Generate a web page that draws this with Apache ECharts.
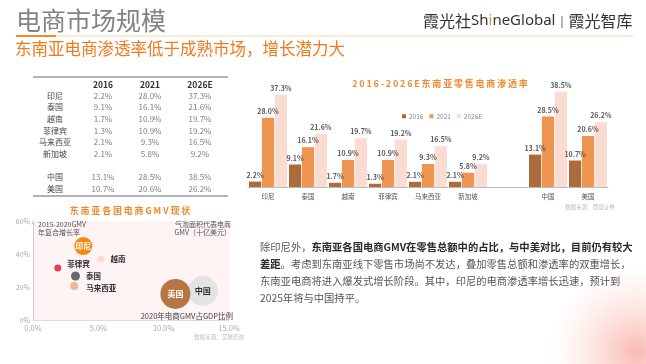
<!DOCTYPE html>
<html><head><meta charset="utf-8">
<script src="https://cdn.jsdelivr.net/npm/echarts@6/dist/echarts.min.js"></script>
<style>html,body{margin:0;padding:0;background:#fff;}#c{width:646px;height:364px;}</style>
</head><body><div id="c"></div>
<script>
// ---- data ----
const categories = ['印尼','泰国','越南','菲律宾','马来西亚','新加坡','中国','美国'];
const v2016 = [2.2, 9.1, 1.7, 1.3, 2.1, 2.1, 13.1, 10.7];
const v2021 = [28.0, 16.1, 10.9, 10.9, 9.3, 5.8, 28.5, 20.6];
const v2026 = [37.3, 21.6, 19.7, 19.2, 16.5, 9.2, 38.5, 26.2];
const yearLabels = ['2016', '2021', '2026E'];

const bubbleNames = ['中国','美国','印尼','越南','菲律宾','泰国','马来西亚'];
const gmvShareGdp = [13.0, 10.9, 3.85, 5.2, 1.9, 3.25, 3.15];
const cagr = [17.6, 15.8, 44.8, 37.0, 31.5, 26.7, 20.6];
const bubbleSize = [30, 30, 18, 7, 7, 9, 8];

const bubbleXTicks = [0, 5, 10, 15];
const bubbleYTicks = [0, 20, 40, 60];

// ---- styles ----
const FONT = '"Noto Sans CJK SC","Noto Sans",sans-serif';
const barColors = ['#AD6A3B', '#EE9552', '#FBDCD2'];
const bubbleColors = {'中国':'#E3E3E3','美国':'#B87545','印尼':'#F7870F','越南':'#FADCD0','菲律宾':'#E0434F','泰国':'#686868','马来西亚':'#F4B49A'};
const insideLabel = {'中国':'#333','美国':'#fff','印尼':'#fff'};

const spaced = s => Array.from(s).join('\u2009');
const withGap = arr => [...arr.slice(0,6), '-', ...arr.slice(6)];
const barCats = withGap(categories).map(c => c === '-' ? '' : c);

const chart = echarts.init(document.getElementById('c'), null, {renderer:'canvas'});

function txt(text, x, y, o) {
  o = o || {};
  const st = Object.assign({
    text: text, fill: '#555', fontSize: 10, fontFamily: FONT,
    align: 'left', textAlign: 'left', verticalAlign: 'middle', textVerticalAlign: 'middle'
  }, o);
  if (o.align) st.textAlign = o.align;
  return {type:'text', x:x, y:y, z:10, silent:true, style: st};
}

const g = [];
// background glow
g.push({type:'circle', shape:{cx:636, cy:352, r:85}, z:0, silent:true,
  style:{fill:{type:'radial', x:0.5, y:0.5, r:0.5, colorStops:[
    {offset:0, color:'rgba(248,170,155,0.8)'},{offset:0.5,color:'rgba(249,190,180,0.4)'},{offset:1, color:'rgba(250,210,200,0)'}]}}});
// header
g.push(txt('电商市场规模', 16, 20, {fontSize:25, fill:'#838383'}));
g.push({type:'rect', shape:{x:16, y:35, width:40, height:2}, z:10, silent:true, style:{fill:'#F08A24'}});
g.push({type:'rect', shape:{x:56, y:35.5, width:577, height:1}, z:10, silent:true, style:{fill:'#FAD5B4'}});
g.push(txt('{a|霞光社}{l|Sh}{o|i}{l|neGlobal}{s|丨}{a|霞光智库}', 423, 21, {
  rich:{a:{fontSize:16, fill:'#333', fontFamily:FONT}, l:{fontSize:15, fill:'#333', fontFamily:'"Noto Sans",sans-serif'},
        o:{fontSize:15, fill:'#F08A24', fontFamily:'"Noto Sans",sans-serif'}, s:{fontSize:13, fill:'#777', fontFamily:FONT}}
}));
g.push(txt('东南亚电商渗透率低于成熟市场，增长潜力大', 15, 48.5, {fontSize:16.5, fill:'#F07A1E'}));

// table
g.push({type:'line', shape:{x1:33, y1:77, x2:228, y2:77}, z:10, silent:true, style:{stroke:'#9a9a9a', lineWidth:1.5}});
g.push({type:'line', shape:{x1:33, y1:196, x2:228, y2:196}, z:10, silent:true, style:{stroke:'#9a9a9a', lineWidth:1.5}});
const colX = [103, 150, 200];
yearLabels.forEach((y, i) => g.push(txt(y, colX[i], 84.5, {align:'center', fontSize:8.5, fontWeight:'bold', fill:'#333'})));
const tableVals = [v2016, v2021, v2026];
categories.forEach((c, r) => {
  const slot = r < 6 ? r : r + 1;
  const yy = 95.5 + slot * 11.7;
  g.push(txt(c, 55, yy, {align:'center', fontSize:8, fill:'#444'}));
  tableVals.forEach((arr, k) => g.push(txt(arr[r].toFixed(1) + '%', colX[k], yy, {align:'center', fontSize:8, fill:'#808080'})));
});

// bar chart title & source
g.push(txt(spaced('2016-2026E东南亚零售电商渗透率'), 440, 84, {align:'center', fontSize:9, fontWeight:'bold', fill:'#F08A30'}));
g.push(txt('数据来源：国盛证券', 590, 206.5, {align:'center', fontSize:5.5, fill:'#bbb'}));

// bubble chart texts
g.push(txt(spaced('东南亚各国电商GMV现状'), 130, 211, {align:'center', fontSize:9, fontWeight:'bold', fill:'#F08A30'}));
g.push(txt('2015-2020GMV', 38, 224, {fontSize:7, fill:'#555'}));
g.push(txt('年复合增长率', 38, 232.5, {fontSize:7, fill:'#555'}));
g.push(txt('气泡面积代表电商', 231, 224, {align:'right', fontSize:7, fill:'#555'}));
g.push(txt('GMV（十亿美元）', 231, 232.5, {align:'right', fontSize:7, fill:'#555'}));
g.push(txt('2020年电商GMV占GDP比例', 233, 316, {align:'right', fontSize:7.5, fill:'#444'}));
g.push(txt('数据来源：艾瑞咨询', 219, 337, {align:'center', fontSize:5.5, fill:'#bbb'}));

// paragraph
const P = {n:{fontSize:10.3, fill:'#555', fontFamily:FONT}, b:{fontSize:10.3, fill:'#2a2a2a', fontWeight:'bold', fontFamily:FONT}};
g.push(txt('{n|除印尼外，}{b|东南亚各国电商GMV在零售总额中的占比，与中美对比，目前仍有较大}', 260, 247, {rich:P}));
g.push(txt('{b|差距}{n|。考虑到东南亚线下零售市场尚不发达，叠加零售总额和渗透率的双重增长，}', 260, 264, {rich:P}));
g.push(txt('{n|东南亚电商将进入爆发式增长阶段。其中，印尼的电商渗透率增长迅速，预计到}', 260, 281, {rich:P}));
g.push(txt('{n|2025年将与中国持平。}', 260, 298, {rich:P}));

const barSeries = [v2016, v2021, v2026].map((arr, i) => ({
  name: yearLabels[i], type:'bar', xAxisIndex:0, yAxisIndex:0,
  data: withGap(arr), barGap:'6%', barCategoryGap:'5%',
  itemStyle:{color: barColors[i]},
  label:{show:true, position:'top', distance:3, fontSize:7, fontWeight:'bold', color:'#5a5a5a', fontFamily:FONT,
    formatter: p => Number(p.value).toFixed(1) + '%'}
}));

const bubbleData = bubbleNames.map((n, i) => {
  const inside = insideLabel[n];
  return {
    name:n, value:[gmvShareGdp[i], cagr[i]], symbolSize: bubbleSize[i],
    itemStyle:{color: bubbleColors[n], opacity:1},
    label: inside ? {show:true, position:'inside', color:inside, fontSize:8, fontWeight:'bold', formatter:'{b}', fontFamily:FONT}
                  : {show:true, position:'right', distance:6, offset: n==='菲律宾' ? [0,-4] : (n==='马来西亚'?[2,2]:[0,0]),
                     color:'#333', fontSize:7.5, fontWeight:'bold', formatter:'{b}', fontFamily:FONT}
  };
});

chart.setOption({
  animation:false,
  textStyle:{fontFamily:FONT},
  legend:{data:yearLabels, left:397, top:108, itemWidth:4, itemHeight:4, itemGap:6, icon:'rect',
    textStyle:{fontSize:6.5, color:'#888', padding:[0,0,0,-2]}},
  grid:[
    {left:248, right:38, top:88, bottom:177},
    {left:33, right:417, top:221, bottom:44, show:true, backgroundColor:'#FDF4F3', borderWidth:0}
  ],
  xAxis:[
    {type:'category', gridIndex:0, data:barCats, axisTick:{show:false},
      axisLine:{lineStyle:{color:'#bbb', width:1}},
      axisLabel:{fontSize:6.5, color:'#555', margin:6, interval:0}},
    {type:'value', gridIndex:1, min:0, max:15, interval:5, splitLine:{show:false},
      axisTick:{show:false}, axisLine:{show:true, lineStyle:{color:'#ddd'}},
      axisLabel:{fontSize:7.5, color:'#aaa', margin:4, formatter: v => bubbleXTicks.includes(v) ? v.toFixed(1) + '%' : ''}}
  ],
  yAxis:[
    {type:'value', gridIndex:0, min:0, max:40, show:false, splitLine:{show:false}},
    {type:'value', gridIndex:1, min:0, max:60, interval:20, splitLine:{show:false},
      axisTick:{show:false}, axisLine:{show:true, symbol:['none','arrow'], symbolSize:[3,4], lineStyle:{color:'#ccc'}},
      axisLabel:{fontSize:7, color:'#aaa', margin:3, formatter: v => bubbleYTicks.includes(v) ? v + '%' : ''}}
  ],
  series:[...barSeries,
    {type:'scatter', xAxisIndex:1, yAxisIndex:1, data:bubbleData, emphasis:{disabled:true}}
  ],
  graphic:{elements:g}
});
</script></body></html>
